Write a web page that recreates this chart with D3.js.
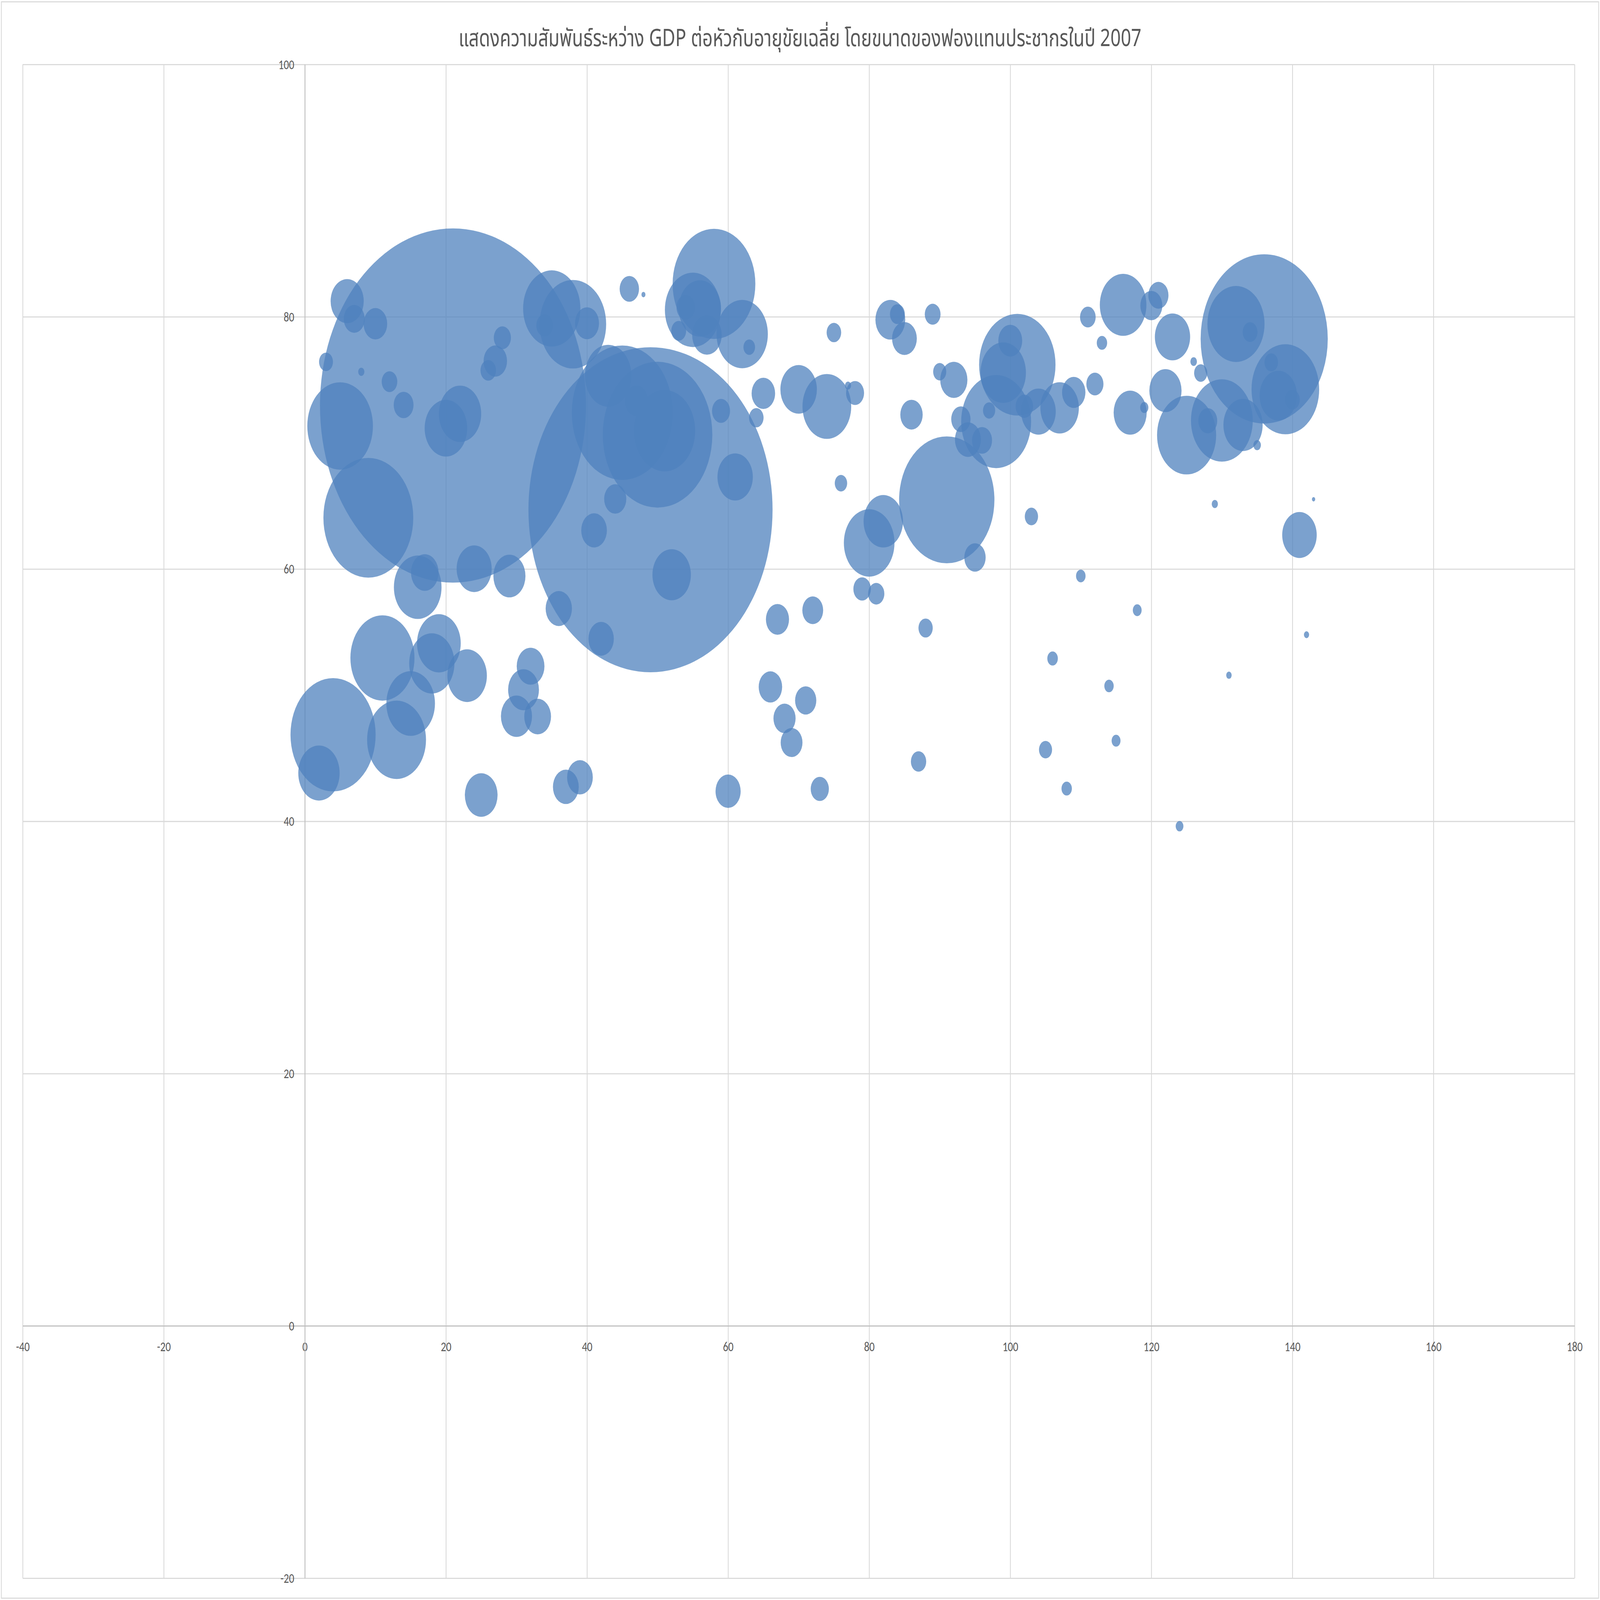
<!DOCTYPE html>
<html>
<head>
<meta charset="utf-8">
<script src="https://cdn.jsdelivr.net/npm/d3@7"></script>
<style>
  html, body { margin: 0; padding: 0; width: 100%; height: 100%; overflow: hidden; background: #fff; }
  svg { display: block; width: 100vw; height: 100vh; }
</style>
</head>
<body>
<svg id="chart"></svg>
<script>
// gapminder 2007, plotted against row number (x), life expectancy (y), population in millions (size)
var countries = ["Afghanistan","Albania","Nigeria","Egypt","Australia","Austria","Bahrain","Bangladesh","Belgium","Ethiopia",
  "Bosnia and Herzegovina","Congo, Dem. Rep.","Bulgaria","South Africa","Sudan","Cambodia","Tanzania","Kenya","Morocco","China",
  "Algeria","Uganda","Ghana","Mozambique","Croatia","Czech Republic","Denmark","Madagascar","Cote d'Ivoire","Cameroon",
  "Burkina Faso","Malawi","Finland","France","Niger","Angola","Germany","Zimbabwe","Greece","Senegal",
  "Mali","Argentina","Bolivia","Brazil","Hong Kong","Hungary","Iceland","India","Indonesia","Iran",
  "Iraq","Ireland","Israel","Italy","Canada","Chile","Japan","Jordan","Zambia","Korea, Dem. Rep.",
  "Korea, Rep.","Kuwait","Lebanon","Tunisia","Chad","Guinea","Somalia","Rwanda","Malaysia","Burundi",
  "Benin","Sierra Leone","Colombia","Puerto Rico","Mongolia","Montenegro","Libya","Togo","Myanmar","Eritrea",
  "Nepal","Netherlands","New Zealand","Cuba","Dominican Republic","Central African Republic","Congo, Rep.","Norway","Oman","Pakistan",
  "Ecuador","El Salvador","Guatemala","Haiti","Honduras","Jamaica","Philippines","Poland","Portugal","Mexico",
  "Nicaragua","Mauritania","Romania","Liberia","Namibia","Saudi Arabia","Lesotho","Serbia","Gambia","Singapore",
  "Slovak Republic","Slovenia","Botswana","Guinea-Bissau","Spain","Sri Lanka","Gabon","Mauritius","Sweden","Switzerland",
  "Syria","Taiwan","Swaziland","Thailand","Reunion","Panama","Paraguay","Comoros","Turkey","Equatorial Guinea",
  "United Kingdom","Peru","Costa Rica","Trinidad and Tobago","United States","Uruguay","Venezuela","Vietnam","West Bank and Gaza","Yemen, Rep.",
  "Djibouti","Sao Tome and Principe"];

var xValues = [2,3,4,5,6,7,8,9,10,11,
  12,13,14,15,16,17,18,19,20,21,
  22,23,24,25,26,27,28,29,30,31,
  32,33,34,35,36,37,38,39,40,41,
  42,43,44,45,46,47,48,49,50,51,
  52,53,54,55,56,57,58,59,60,61,
  62,63,64,65,66,67,68,69,70,71,
  72,73,74,75,76,77,78,79,80,81,
  82,83,84,85,86,87,88,89,90,91,
  92,93,94,95,96,97,98,99,100,101,
  102,103,104,105,106,107,108,109,110,111,
  112,113,114,115,116,117,118,119,120,121,
  122,123,124,125,126,127,128,129,130,131,
  132,133,134,135,136,137,138,139,140,141,
  142,143];

var lifeExp = [43.828,76.423,46.859,71.338,81.235,79.829,75.635,64.062,79.441,52.947,
  74.852,46.462,73.005,49.339,58.556,59.723,52.517,54.110,71.164,72.961,
  72.301,51.542,60.022,42.082,75.748,76.486,78.332,59.443,48.328,50.430,
  52.295,48.303,79.313,80.657,56.867,42.731,79.406,43.487,79.483,63.062,
  54.467,75.320,65.554,72.390,82.208,73.338,81.757,64.698,70.650,70.964,
  59.545,78.885,80.745,80.546,80.653,78.553,82.603,72.535,42.384,67.297,
  78.623,77.588,71.993,73.923,50.651,56.007,48.159,46.242,74.241,49.580,
  56.728,42.568,72.889,78.746,66.803,74.543,73.952,58.420,62.069,58.040,
  63.785,79.762,80.204,78.273,72.235,44.741,55.322,80.196,75.640,65.483,
  74.994,71.878,70.259,60.916,70.198,72.567,71.688,75.563,78.098,76.195,
  72.899,64.164,72.476,45.678,52.906,72.777,42.592,74.002,59.448,79.972,
  74.663,77.926,50.728,46.388,80.941,72.396,56.735,72.801,80.884,81.701,
  74.143,78.400,39.613,70.616,76.442,75.537,71.752,65.152,71.777,51.579,
  79.425,71.421,78.782,69.819,78.242,76.384,73.747,74.249,73.422,62.698,
  54.791,65.528];

var population = [31.89,3.60,135.03,80.26,20.43,8.20,0.71,150.45,10.39,76.51,
  4.55,64.61,7.32,44.00,42.29,14.13,38.14,35.61,33.76,1318.68,
  33.33,29.17,22.87,19.95,4.49,10.23,5.47,19.17,18.01,17.70,
  14.33,13.33,5.24,61.08,12.89,12.42,82.40,12.31,10.71,12.27,
  12.03,40.30,9.12,190.01,6.98,9.96,0.30,1110.40,223.55,69.45,
  27.50,4.11,6.43,58.15,33.39,16.28,127.47,6.05,11.75,23.30,
  49.04,2.51,3.92,10.28,10.24,9.95,9.12,8.86,24.82,8.39,
  8.08,6.14,44.23,3.94,2.87,0.68,6.04,5.70,47.76,4.91,
  28.90,16.57,4.12,11.42,9.32,4.37,3.80,4.63,3.20,169.27,
  13.76,6.94,12.57,8.50,7.48,2.78,91.08,38.52,10.64,108.70,
  5.68,3.27,22.28,3.19,2.06,27.60,2.01,10.15,1.69,4.55,
  5.45,2.01,1.64,1.47,40.45,20.38,1.45,1.25,9.03,7.55,
  19.31,23.17,1.13,65.07,0.80,3.24,6.67,0.71,71.16,0.55,
  60.78,28.67,4.13,1.06,301.14,3.45,26.08,85.26,4.02,22.21,
  0.50,0.20];

var xTicks = [-40,-20,0,20,40,60,80,100,120,140,160,180];
var yTicks = [-20,0,20,40,60,80,100];
var titleText = "แสดงความสัมพันธ์ระหว่าง GDP ต่อหัวกับอายุขัยเฉลี่ย โดยขนาดของฟองแทนประชากรในปี 2007";

var W = 5852, H = 4395;
var plot = { left: 83, right: 5759, top: 177, bottom: 4335 };
var plotH = plot.bottom - plot.top;

// draw in a fixed coordinate box and let it stretch to the window
var svg = d3.select("#chart")
  .attr("viewBox", "0 0 " + W + " " + H)
  .attr("preserveAspectRatio", "none");

svg.append("rect")
  .attr("x", 0).attr("y", 0).attr("width", W).attr("height", H)
  .attr("fill", "#fff");

// chart border
svg.append("rect")
  .attr("x", 5).attr("y", 5)
  .attr("width", W - 10).attr("height", H - 10)
  .attr("fill", "none")
  .attr("stroke", "#d9d9d9")
  .attr("stroke-width", 3);

var x = d3.scaleLinear().domain([-40, 180]).range([plot.left, plot.right]);
var y = d3.scaleLinear().domain([-20, 100]).range([plot.bottom, plot.top]);
// largest bubble diameter is about 23.4% of plot height, area ~ population
var r = d3.scaleSqrt().domain([0, d3.max(population)]).range([0, plotH * 0.117]);

// gridlines
svg.append("g")
  .attr("class", "grid-x")
  .attr("transform", "translate(0," + plot.bottom + ")")
  .call(d3.axisBottom(x).tickValues(xTicks).tickSize(-plotH).tickFormat(""))
  .call(g => g.select(".domain").remove())
  .call(g => g.selectAll("line").attr("stroke", "#d9d9d9").attr("stroke-width", 3));

svg.append("g")
  .attr("class", "grid-y")
  .attr("transform", "translate(" + plot.left + ",0)")
  .call(d3.axisLeft(y).tickValues(yTicks).tickSize(-(plot.right - plot.left)).tickFormat(""))
  .call(g => g.select(".domain").remove())
  .call(g => g.selectAll("line").attr("stroke", "#d9d9d9").attr("stroke-width", 3));

// axis lines cross at zero
var xAxisG = svg.append("g")
  .attr("transform", "translate(0," + y(0) + ")")
  .call(d3.axisBottom(x).tickValues(xTicks).tickSize(0).tickSizeOuter(0).tickPadding(42)
    .tickFormat(d => String(d)));
var yAxisG = svg.append("g")
  .attr("transform", "translate(" + x(0) + ",0)")
  .call(d3.axisLeft(y).tickValues(yTicks).tickSize(0).tickSizeOuter(0).tickPadding(39)
    .tickFormat(d => String(d)));

[xAxisG, yAxisG].forEach(function (g) {
  g.select(".domain").attr("stroke", "#bfbfbf").attr("stroke-width", 3);
  g.selectAll("text")
    .attr("fill", "#595959")
    .style("font-family", "Carlito, 'Open Sans', 'Noto Sans', sans-serif")
    .style("font-size", "38px");
});

// bubbles
var bubbles = xValues.map(function (d, i) {
  return { name: countries[i], x: d, y: lifeExp[i], size: population[i] };
});

svg.append("g")
  .attr("class", "bubbles")
  .selectAll("circle")
  .data(bubbles)
  .join("circle")
  .attr("cx", d => x(d.x))
  .attr("cy", d => y(d.y))
  .attr("r", d => r(d.size))
  .attr("fill", "#4f81bd")
  .attr("fill-opacity", 0.75);

// title
svg.append("text")
  .attr("x", W / 2)
  .attr("y", 127)
  .attr("text-anchor", "middle")
  .attr("fill", "#595959")
  .style("font-family", "'Noto Sans Thai', 'Leelawadee UI', Tahoma, 'Noto Sans', sans-serif")
  .style("font-size", "66px")
  .text(titleText);
</script>
</body>
</html>
